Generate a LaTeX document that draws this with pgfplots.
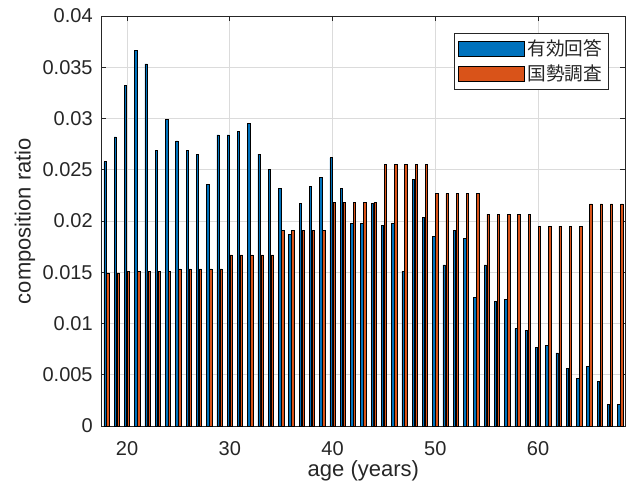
\documentclass[border=0pt]{standalone}
\usepackage{pgfplots}
\usepackage{pgfplotstable}
\pgfplotsset{compat=1.18}
\usepackage{fontspec}
\setmainfont{Liberation Sans}
\newfontfamily\cjk{Noto Sans CJK JP}
\definecolor{mblue}{rgb}{0,0.447,0.741}
\definecolor{morange}{rgb}{0.85,0.325,0.098}
\definecolor{mgray}{rgb}{0.15,0.15,0.15}
\definecolor{mgrid}{rgb}{0.86,0.86,0.86}

\pgfplotstableread{
age resp census
18 0.02578 0.01494
19 0.02821 0.01494
20 0.03325 0.01510
21 0.03662 0.01510
22 0.03532 0.01510
23 0.02688 0.01510
24 0.02990 0.01510
25 0.02782 0.01532
26 0.02688 0.01532
27 0.02653 0.01532
28 0.02354 0.01532
29 0.02841 0.01532
30 0.02841 0.01669
31 0.02877 0.01669
32 0.02955 0.01669
33 0.02653 0.01669
34 0.02503 0.01669
35 0.02315 0.01909
36 0.01867 0.01909
37 0.02169 0.01909
38 0.02334 0.01909
39 0.02429 0.01909
40 0.02617 0.02182
41 0.02315 0.02182
42 0.01980 0.02182
43 0.01980 0.02182
44 0.02169 0.02182
45 0.01958 0.02555
46 0.01980 0.02555
47 0.01510 0.02555
48 0.02409 0.02555
49 0.02039 0.02555
50 0.01851 0.02266
51 0.01571 0.02266
52 0.01906 0.02266
53 0.01831 0.02266
54 0.01253 0.02266
55 0.01571 0.02068
56 0.01214 0.02068
57 0.01234 0.02068
58 0.00951 0.02068
59 0.00935 0.02068
60 0.00766 0.01951
61 0.00786 0.01951
62 0.00714 0.01951
63 0.00562 0.01951
64 0.00468 0.01951
65 0.00581 0.02166
66 0.00432 0.02166
67 0.00208 0.02166
68 0.00208 0.02166
}\data

\begin{document}
\begin{tikzpicture}
\begin{axis}[name=ax, scale only axis, width=393pt, height=307.5pt,
  xmin=17.5, xmax=68.5, ymin=0, ymax=0.04,
  ybar, bar width=0.229,
  xtick={20,30,40,50,60},
  ytick={0,0.005,0.01,0.015,0.02,0.025,0.03,0.035,0.04},
  yticklabels={0,0.005,0.01,0.015,0.02,0.025,0.03,0.035,0.04},
  scaled y ticks=false,
  grid=major, major grid style={mgrid, line width=0.5pt},
  axis line style={mgray, line width=0.5pt},
  tick style={mgray, line width=0.5pt}, major tick length=3.75pt,
  tick align=inside,
  ticklabel style={font=\fontsize{15}{18}\selectfont, text=mgray},
  xticklabel style={yshift=-8pt},
  yticklabel style={xshift=-3pt},
  /pgf/number format/assume math mode=true,
  xlabel={age (years)}, ylabel={composition ratio},
  label style={font=\fontsize{16.5}{19}\selectfont, text=mgray},
  xlabel style={at={(axis description cs:0.5,-0.11)}, anchor=center},
  ylabel style={at={(axis description cs:-0.1456,0.5)}, anchor=center, rotate=0},
  legend style={at={(axis description cs:0.969,0.9585)}, anchor=north east,
    draw=mgray, line width=0.5pt, fill=white,
    font=\cjk\fontsize{14}{16}\selectfont, text=mgray,
    inner sep=3pt, row sep=1pt},
  legend cell align=left,
  legend image code/.code={\draw[#1] (0pt,-5.5pt) rectangle (49.5pt,5.5pt);},
]
\addplot[bar shift=-0.143, fill=mblue, draw=black, line width=0.45pt] table[x=age,y=resp]{\data};
\addplot[bar shift=0.143, fill=morange, draw=black, line width=0.45pt] table[x=age,y=census]{\data};
\legend{有効回答,国勢調査}
\end{axis}
\pgfresetboundingbox
\path[use as bounding box] ([xshift=-76pt,yshift=-45pt]ax.south west) rectangle ([xshift=2.7pt,yshift=12pt]ax.north east);
\end{tikzpicture}
\end{document}
